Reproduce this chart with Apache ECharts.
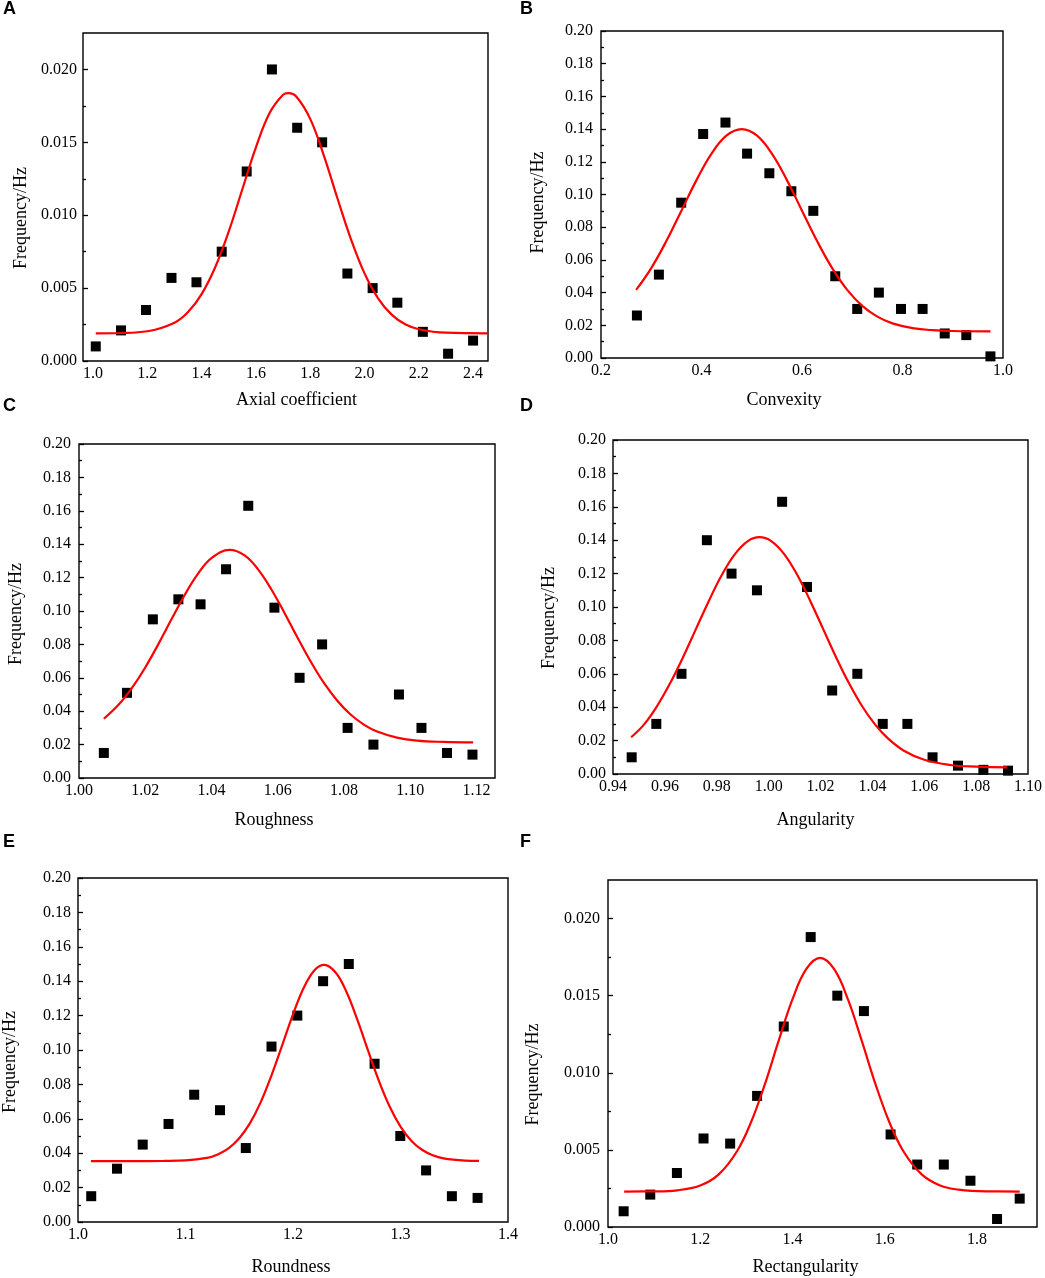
<!DOCTYPE html>
<html>
<head>
<meta charset="utf-8">
<title>Particle shape distributions</title>
<script src="https://cdn.jsdelivr.net/npm/echarts@6/dist/echarts.min.js"></script>
<style>
  html, body { margin: 0; padding: 0; background: #fff; }
  #chart { width: 1045px; height: 1278px; }
</style>
</head>
<body>
<div id="chart"></div>
<script>
// A - Axial coefficient
const axialX = [1.010, 1.103, 1.195, 1.289, 1.381, 1.474, 1.566, 1.659, 1.752, 1.844, 1.937, 2.030, 2.121, 2.215, 2.308, 2.400];
const axialY = [0.0010, 0.0021, 0.0035, 0.0057, 0.0054, 0.0075, 0.0130, 0.0200, 0.0160, 0.0150, 0.0060, 0.0050, 0.0040, 0.0020, 0.0005, 0.0014];
const axialFitX = [1.01, 1.10, 1.20, 1.30, 1.35, 1.40, 1.45, 1.50, 1.55, 1.60, 1.65, 1.70, 1.72, 1.75, 1.80, 1.85, 1.90, 1.95, 2.00, 2.05, 2.10, 2.15, 2.20, 2.30, 2.455];
const axialFitY = [0.00190, 0.00192, 0.00204, 0.00263, 0.00336, 0.00459, 0.00643, 0.00889, 0.01178, 0.01466, 0.01700, 0.01826, 0.01837, 0.01811, 0.01661, 0.01411, 0.01118, 0.00836, 0.00601, 0.00430, 0.00318, 0.00252, 0.00218, 0.00194, 0.00190];
const axialTicks = [1.0, 1.2, 1.4, 1.6, 1.8, 2.0, 2.2, 2.4];

// B - Convexity
const convexX = [0.2715, 0.3152, 0.3596, 0.4033, 0.4477, 0.4907, 0.5350, 0.5788, 0.6225, 0.6662, 0.7099, 0.7530, 0.7970, 0.8400, 0.8840, 0.9270, 0.9750];
const convexY = [0.026, 0.051, 0.095, 0.137, 0.144, 0.125, 0.113, 0.102, 0.090, 0.050, 0.030, 0.040, 0.030, 0.030, 0.015, 0.014, 0.001];
const convexFitX = [0.27, 0.30, 0.33, 0.36, 0.39, 0.42, 0.45, 0.48, 0.51, 0.54, 0.57, 0.60, 0.63, 0.66, 0.69, 0.72, 0.75, 0.78, 0.82, 0.86, 0.90, 0.975];
const convexFitY = [0.0417, 0.0550, 0.0715, 0.0901, 0.1088, 0.1250, 0.1361, 0.1400, 0.1361, 0.1250, 0.1088, 0.0901, 0.0715, 0.0550, 0.0417, 0.0319, 0.0253, 0.0212, 0.0183, 0.0170, 0.0165, 0.0163];
const convexTicks = [0.2, 0.4, 0.6, 0.8, 1.0];

// C - Roughness
const roughX = [1.0075, 1.0145, 1.0223, 1.0300, 1.0367, 1.0444, 1.0511, 1.0590, 1.0666, 1.0734, 1.0811, 1.0889, 1.0966, 1.1034, 1.1111, 1.1188];
const roughY = [0.015, 0.051, 0.095, 0.107, 0.104, 0.125, 0.163, 0.102, 0.060, 0.080, 0.030, 0.020, 0.050, 0.030, 0.015, 0.014];
const roughFitX = [1.0075, 1.012, 1.016, 1.020, 1.024, 1.028, 1.032, 1.036, 1.040, 1.0455, 1.050, 1.054, 1.058, 1.062, 1.066, 1.070, 1.074, 1.078, 1.082, 1.086, 1.090, 1.096, 1.102, 1.110, 1.119];
const roughFitY = [0.0355, 0.0440, 0.0540, 0.0662, 0.0803, 0.0953, 0.1099, 0.1225, 0.1317, 0.1366, 0.1333, 0.1251, 0.1132, 0.0990, 0.0840, 0.0696, 0.0568, 0.0463, 0.0380, 0.0320, 0.0278, 0.0242, 0.0224, 0.0216, 0.0213];
const roughTicks = [1.00, 1.02, 1.04, 1.06, 1.08, 1.10, 1.12];

// D - Angularity
const angX = [0.9472, 0.9567, 0.9664, 0.9762, 0.9857, 0.9955, 1.0052, 1.0148, 1.0245, 1.0342, 1.0440, 1.0535, 1.0632, 1.0730, 1.0828, 1.0923];
const angY = [0.010, 0.030, 0.060, 0.140, 0.120, 0.110, 0.163, 0.112, 0.050, 0.060, 0.030, 0.030, 0.010, 0.005, 0.0025, 0.002];
const angFitX = [0.947, 0.952, 0.957, 0.962, 0.967, 0.972, 0.977, 0.982, 0.987, 0.992, 0.9965, 1.001, 1.006, 1.011, 1.016, 1.021, 1.026, 1.031, 1.036, 1.041, 1.046, 1.052, 1.060, 1.070, 1.080, 1.092];
const angFitY = [0.0220, 0.0297, 0.0407, 0.0543, 0.0699, 0.0869, 0.1038, 0.1193, 0.1317, 0.1395, 0.1418, 0.1395, 0.1317, 0.1193, 0.1038, 0.0869, 0.0699, 0.0543, 0.0407, 0.0297, 0.0213, 0.0141, 0.0085, 0.0054, 0.0044, 0.0040];
const angTicks = [0.94, 0.96, 0.98, 1.00, 1.02, 1.04, 1.06, 1.08, 1.10];

// E - Roundness
const roundX = [1.0123, 1.0363, 1.0602, 1.0842, 1.1081, 1.1321, 1.1561, 1.1800, 1.2040, 1.2280, 1.2519, 1.2759, 1.2998, 1.3238, 1.3478, 1.3717];
const roundY = [0.015, 0.031, 0.045, 0.057, 0.074, 0.065, 0.043, 0.102, 0.120, 0.140, 0.150, 0.092, 0.050, 0.030, 0.015, 0.014];
const roundFitX = [1.012, 1.05, 1.08, 1.10, 1.12, 1.13, 1.14, 1.15, 1.16, 1.17, 1.18, 1.19, 1.20, 1.21, 1.22, 1.229, 1.24, 1.25, 1.26, 1.27, 1.28, 1.29, 1.30, 1.31, 1.32, 1.33, 1.34, 1.36, 1.373];
const roundFitY = [0.0354, 0.0354, 0.0355, 0.0358, 0.0373, 0.0393, 0.0428, 0.0487, 0.0575, 0.0697, 0.0853, 0.1029, 0.1207, 0.1362, 0.1464, 0.1495, 0.1448, 0.1334, 0.1173, 0.0993, 0.0819, 0.0670, 0.0555, 0.0473, 0.0420, 0.0388, 0.0370, 0.0357, 0.0355];
const roundTicks = [1.0, 1.1, 1.2, 1.3, 1.4];

// F - Rectangularity
const rectX = [1.0339, 1.0916, 1.1494, 1.2071, 1.2648, 1.3232, 1.3810, 1.4394, 1.4971, 1.5548, 1.6126, 1.6703, 1.7280, 1.7857, 1.8434, 1.8925];
const rectY = [0.00102, 0.0021, 0.0035, 0.00574, 0.00541, 0.0085, 0.0130, 0.0188, 0.0150, 0.0140, 0.0060, 0.00405, 0.00405, 0.0030, 0.00052, 0.00184];
const rectFitX = [1.035, 1.10, 1.15, 1.20, 1.24, 1.28, 1.31, 1.34, 1.37, 1.40, 1.43, 1.46, 1.49, 1.52, 1.55, 1.58, 1.61, 1.64, 1.68, 1.72, 1.76, 1.82, 1.8925];
const rectFitY = [0.00230, 0.00231, 0.00238, 0.00269, 0.00341, 0.00493, 0.00679, 0.00925, 0.01208, 0.01477, 0.01673, 0.01745, 0.01673, 0.01477, 0.01208, 0.00925, 0.00679, 0.00493, 0.00341, 0.00269, 0.00242, 0.00231, 0.00230];
const rectTicks = [1.0, 1.2, 1.4, 1.6, 1.8];

// y tick values (major labelled, minor unlabelled)
const smallYTicks = [0, 0.005, 0.010, 0.015, 0.020];
const smallYMinor = [0.0025, 0.0075, 0.0125, 0.0175];
const bigYTicks = [0, 0.02, 0.04, 0.06, 0.08, 0.10, 0.12, 0.14, 0.16, 0.18, 0.20];
const bigYMinor = [0.01, 0.03, 0.05, 0.07, 0.09, 0.11, 0.13, 0.15, 0.17, 0.19];

const serif = '"Liberation Serif", "Times New Roman", serif';

// 每个子图的布局与坐标范围
const panels = [
    { letter: 'A', lx: 3, ly: 0, title: 'Axial coefficient', x: axialX, y: axialY, fx: axialFitX, fy: axialFitY,
      grid: { left: 83, top: 33, width: 405, height: 328 },
      xMin: 0.963, xMax: 2.455, xTicks: axialTicks, xDec: 1, xGap: 30, xShift: 11,
      yMax: 0.0225, yTicks: smallYTicks, yMinor: smallYMinor, yDec: 3, yGap: 53, yShift: 21, yMargin: 6 },
    { letter: 'B', lx: 520, ly: 0, title: 'Convexity', x: convexX, y: convexY, fx: convexFitX, fy: convexFitY,
      grid: { left: 601, top: 31, width: 402, height: 327 },
      xMin: 0.2, xMax: 1.0, xTicks: convexTicks, xDec: 1, xGap: 33, xShift: -18,
      yMax: 0.2, yTicks: bigYTicks, yMinor: bigYMinor, yDec: 2, yGap: 54, yShift: 8, yMargin: 8 },
    { letter: 'C', lx: 3, ly: 397, title: 'Roughness', x: roughX, y: roughY, fx: roughFitX, fy: roughFitY,
      grid: { left: 79, top: 444, width: 416, height: 334 },
      xMin: 1.0, xMax: 1.1256, xTicks: roughTicks, xDec: 2, xGap: 33, xShift: -13,
      yMax: 0.2, yTicks: bigYTicks, yMinor: bigYMinor, yDec: 2, yGap: 54, yShift: 3, yMargin: 8 },
    { letter: 'D', lx: 520, ly: 397, title: 'Angularity', x: angX, y: angY, fx: angFitX, fy: angFitY,
      grid: { left: 613, top: 440, width: 415, height: 334 },
      xMin: 0.94, xMax: 1.10, xTicks: angTicks, xDec: 2, xGap: 37, xShift: -5,
      yMax: 0.2, yTicks: bigYTicks, yMinor: bigYMinor, yDec: 2, yGap: 55, yShift: 11, yMargin: 7 },
    { letter: 'E', lx: 3, ly: 833, title: 'Roundness', x: roundX, y: roundY, fx: roundFitX, fy: roundFitY,
      grid: { left: 74, top: 878, width: 434, height: 344 },
      xMin: 1.0, xMax: 1.4, xTicks: roundTicks, xDec: 1, xGap: 36, xShift: -2,
      yMax: 0.2, yTicks: bigYTicks, yMinor: bigYMinor, yDec: 2, yGap: 59, yShift: 12, yMargin: 7 },
    { letter: 'F', lx: 520, ly: 833, title: 'Rectangularity', x: rectX, y: rectY, fx: rectFitX, fy: rectFitY,
      grid: { left: 608, top: 880, width: 429, height: 347 },
      xMin: 1.0, xMax: 1.93, xTicks: rectTicks, xDec: 1, xGap: 31, xShift: -17,
      yMax: 0.0225, yTicks: smallYTicks, yMinor: smallYMinor, yDec: 3, yGap: 66, yShift: 21, yMargin: 8 }
];

const grids = [], xAxes = [], yAxes = [], series = [], graphics = [];

panels.forEach((p, i) => {
    grids.push(Object.assign({ show: true, borderColor: '#000', borderWidth: 1.4, backgroundColor: 'transparent' }, p.grid));

    xAxes.push({
        gridIndex: i,
        type: 'value',
        min: p.xMin,
        max: p.xMax,
        name: p.title,
        nameLocation: 'middle',
        nameGap: p.xGap,
        nameTextStyle: {
            fontFamily: serif, fontSize: 18, color: '#000',
            padding: p.xShift >= 0 ? [0, 0, 0, 2 * p.xShift] : [0, -2 * p.xShift, 0, 0]
        },
        axisLine: { show: false },
        axisTick: { show: false },
        splitLine: { show: false },
        axisLabel: {
            customValues: p.xTicks,
            margin: 5,
            fontFamily: serif, fontSize: 16, color: '#000',
            formatter: v => v.toFixed(p.xDec)
        }
    });

    // 主刻度 + 标签
    yAxes.push({
        gridIndex: i,
        type: 'value',
        min: 0,
        max: p.yMax,
        name: 'Frequency/Hz',
        nameLocation: 'middle',
        nameGap: p.yGap,
        nameTextStyle: {
            fontFamily: serif, fontSize: 18, color: '#000',
            padding: [0, 2 * p.yShift, 0, 0]
        },
        axisLine: { show: false },
        splitLine: { show: false },
        axisTick: { show: true, inside: true, length: 5, customValues: p.yTicks, lineStyle: { color: '#000', width: 1.3 } },
        axisLabel: {
            customValues: p.yTicks,
            margin: p.yMargin,
            fontFamily: serif, fontSize: 16, color: '#000',
            formatter: v => v.toFixed(p.yDec)
        }
    });

    // 次刻度
    yAxes.push({
        gridIndex: i,
        type: 'value',
        min: 0,
        max: p.yMax,
        position: 'left',
        axisLine: { show: false },
        splitLine: { show: false },
        axisLabel: { show: false },
        axisTick: { show: true, inside: true, length: 3, customValues: p.yMinor, lineStyle: { color: '#000', width: 1.3 } }
    });

    series.push({
        type: 'scatter',
        xAxisIndex: i,
        yAxisIndex: 2 * i,
        data: p.x.map((v, k) => [v, p.y[k]]),
        symbol: 'rect',
        symbolSize: 10,
        itemStyle: { color: '#000', opacity: 1 },
        z: 2,
        silent: true
    });

    series.push({
        type: 'line',
        xAxisIndex: i,
        yAxisIndex: 2 * i,
        data: p.fx.map((v, k) => [v, p.fy[k]]),
        smooth: 0.4,
        showSymbol: false,
        lineStyle: { color: '#ff0000', width: 2.2 },
        z: 3,
        silent: true
    });

    graphics.push({
        type: 'text',
        left: p.lx,
        top: p.ly,
        style: { text: p.letter, font: 'bold 18px "Liberation Sans", Arial, sans-serif', fill: '#000' }
    });
});

const chart = echarts.init(document.getElementById('chart'), null, { renderer: 'canvas' });
chart.setOption({
    animation: false,
    backgroundColor: '#fff',
    grid: grids,
    xAxis: xAxes,
    yAxis: yAxes,
    series: series,
    graphic: graphics
});
</script>
</body>
</html>
